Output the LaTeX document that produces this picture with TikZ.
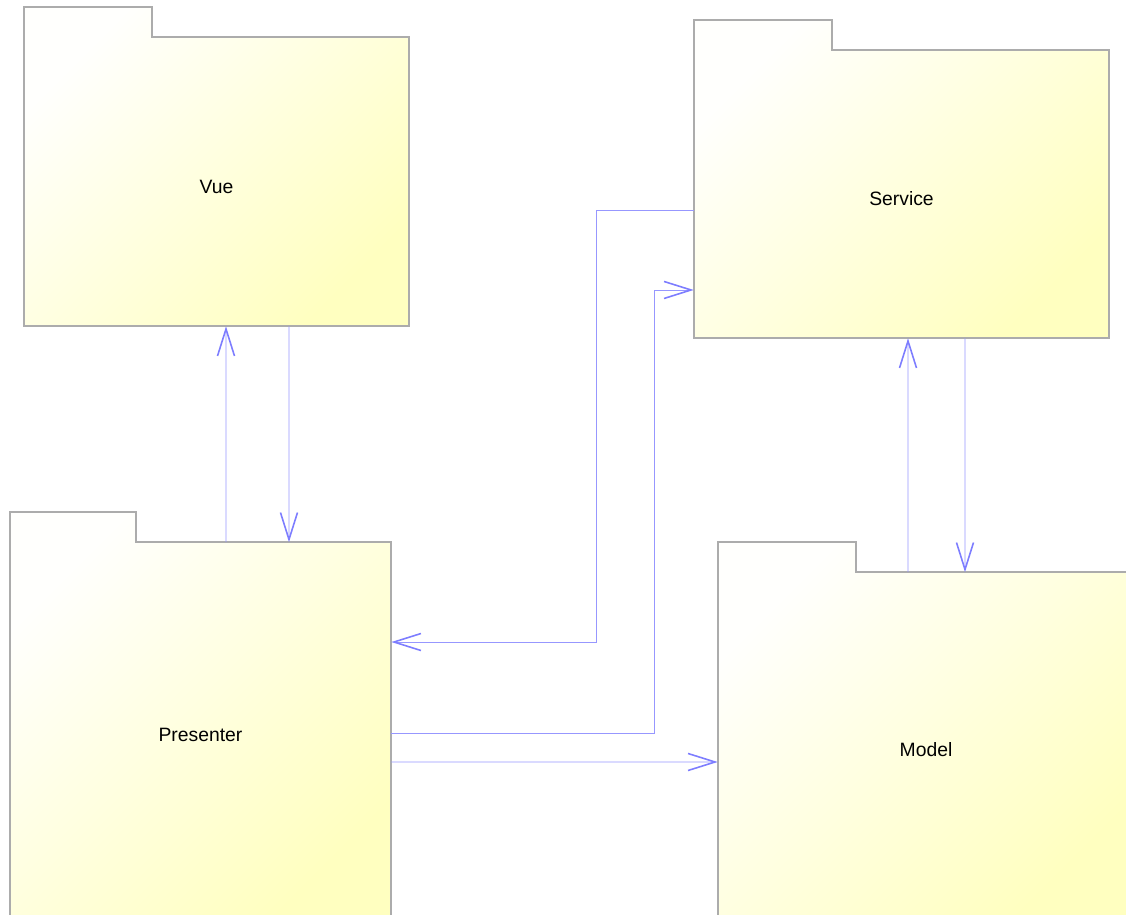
\documentclass[tikz,border=0pt]{standalone}
\usepackage{fontspec}
\setmainfont{Liberation Sans}
\usetikzlibrary{arrows.meta,backgrounds}
\definecolor{pkgyellow}{RGB}{255,255,192}
\definecolor{pkgwhite}{RGB}{255,255,253}
\definecolor{pkgborder}{RGB}{172,172,172}
\definecolor{linkblue}{RGB}{125,125,255}
\tikzstyle{package} = [rectangle, font=\fontsize{11}{13}\selectfont, text height=13.6pt, text depth=0pt]
\tikzstyle{folder} = [draw=pkgborder, line width=1.1pt, top color=pkgwhite, bottom color=pkgyellow, shading angle=45]
\tikzstyle{line} = [draw=linkblue!80, line width=0.5pt,
    -{Straight Barb[length=0.54cm, width=0.34cm, line width=0.9pt, color=linkblue]}]

\begin{document}
\begin{tikzpicture}[x=0.02cm, y=-0.02cm]
    \path[use as bounding box, clip] (0,0) rectangle (1126,915);
    % Place nodes
    \node [package, minimum width=7.7cm, minimum height=5.78cm] (vue) at (216.5,181.5) {Vue};
    \node [package, minimum width=8.3cm, minimum height=5.76cm] (service) at (901.5,194) {Service};
    \node [package, minimum width=7.62cm, minimum height=7.5cm] (presenter) at (200.5,730) {Presenter};
    \node [package, minimum width=8.32cm, minimum height=6.9cm] (model) at (926,745) {Model};
    % Folder shapes behind the names
    \begin{pgfonlayer}{background}
    \foreach \n/\w in {vue/128, service/138, presenter/126, model/138} {
        \path [folder] (\n.south west) -- (\n.north west) -- ++(0,-30) -- ++(\w,0)
            -- ++(0,30) -- (\n.north east) -- (\n.south east) -- cycle;
    }
    \end{pgfonlayer}
    % Draw edges
    \path [line] ([xshift=0.51cm]presenter.north) -- ([xshift=0.19cm]vue.south);
    \path [line] ([xshift=1.45cm]vue.south) -- ([xshift=1.77cm]presenter.north);
    \path [line] ([yshift=-0.32cm]service.west) -- ++(-1.94cm,0) |- ([yshift=1.76cm]presenter.east);
    \path [line] ([yshift=-0.06cm]presenter.east) -- ++(5.26cm,0) |- ([yshift=-1.92cm]service.west);
    \path [line] ([yshift=-0.64cm]presenter.east) -- ([yshift=-0.34cm]model.west);
    \path [line] ([xshift=-0.36cm]model.north) -- ([xshift=0.13cm]service.south);
    \path [line] ([xshift=1.27cm]service.south) -- ([xshift=0.78cm]model.north);
\end{tikzpicture}
\end{document}
